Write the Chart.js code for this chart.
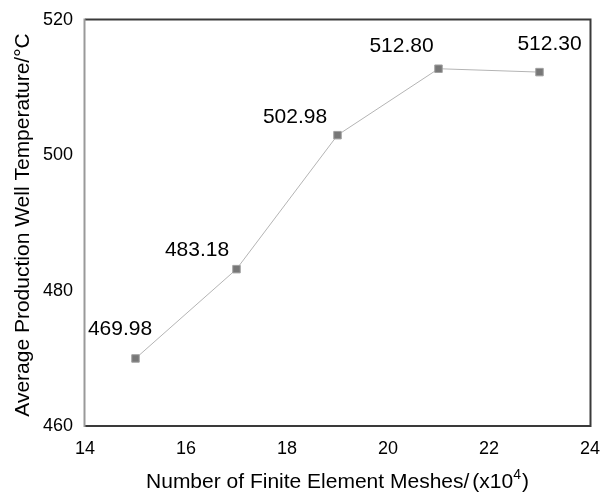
<!DOCTYPE html>
<html>
<head>
<meta charset="utf-8">
<script src="https://cdn.jsdelivr.net/npm/chart.js@4/dist/chart.umd.min.js"></script>
<style>
  html, body { margin: 0; padding: 0; background: #fff; }
  #wrap { width: 600px; height: 495px; }
</style>
</head>
<body>
<div id="wrap"><canvas id="c" width="600" height="495"></canvas></div>
<script>
// Mesh count (x10^4) and the resulting average production well temperature (°C)
const meshCounts = [15, 17, 19, 21, 23];
const wellTemps = [469.98, 483.18, 502.98, 512.80, 512.30];
const xTicks = [14, 16, 18, 20, 22, 24];
const yTicks = [460, 480, 500, 520];

const FONT = '"Liberation Sans", Arial, Helvetica, sans-serif';

// Where each value label sits relative to its point (centre x, baseline y)
const labelOffsets = [[-15.5, -23.5], [-39.5, -13], [-42.5, -12], [-37, -16.7], [10, -22]];

const framePlugin = {
  id: 'frame',
  afterDraw(chart) {
    const { ctx, chartArea: a } = chart;
    ctx.save();
    ctx.lineWidth = 2;
    ctx.strokeStyle = '#3a3a3a';
    ctx.beginPath();
    ctx.moveTo(a.left, a.top - 0.5);
    ctx.lineTo(a.right + 0.5, a.top - 0.5);
    ctx.lineTo(a.right + 0.5, a.bottom);
    ctx.lineTo(a.left, a.bottom);
    ctx.stroke();
    ctx.strokeStyle = '#999';
    ctx.beginPath();
    ctx.moveTo(a.left - 0.5, a.top - 1.5);
    ctx.lineTo(a.left - 0.5, a.bottom + 1);
    ctx.stroke();
    ctx.restore();
  }
};

const valueLabels = {
  id: 'valueLabels',
  afterDatasetsDraw(chart) {
    const { ctx } = chart;
    const meta = chart.getDatasetMeta(0);
    ctx.save();
    ctx.font = '21px ' + FONT;
    ctx.fillStyle = '#000';
    ctx.textAlign = 'center';
    ctx.textBaseline = 'alphabetic';
    meta.data.forEach((pt, i) => {
      const [dx, dy] = labelOffsets[i];
      ctx.fillText(wellTemps[i].toFixed(2), pt.x + dx, pt.y + dy);
    });
    ctx.restore();
  }
};

const axisTitles = {
  id: 'axisTitles',
  afterDraw(chart) {
    const { ctx, chartArea: a } = chart;
    ctx.save();
    ctx.fillStyle = '#000';
    ctx.textBaseline = 'alphabetic';

    // x-axis title with a superscript exponent
    const big = '21px ' + FONT, small = '14px ' + FONT;
    const p1 = 'Number of Finite Element Meshes/', p2 = '(x10', p3 = '4', p4 = ')';
    const gap = 3;
    ctx.font = big;
    const w1 = ctx.measureText(p1).width, w2 = ctx.measureText(p2).width, w4 = ctx.measureText(p4).width;
    ctx.font = small;
    const w3 = ctx.measureText(p3).width;
    const total = w1 + gap + w2 + w3 + 1 + w4;
    let x = (a.left + a.right) / 2 - total / 2;
    const base = 488;
    ctx.textAlign = 'left';
    ctx.font = big;
    ctx.fillText(p1, x, base); x += w1 + gap;
    ctx.fillText(p2, x, base); x += w2;
    ctx.font = small;
    ctx.fillText(p3, x, base - 9); x += w3 + 1;
    ctx.font = big;
    ctx.fillText(p4, x, base);

    // y-axis title
    ctx.translate(29, (a.top + a.bottom) / 2 + 2);
    ctx.rotate(-Math.PI / 2);
    ctx.textAlign = 'center';
    ctx.font = big;
    ctx.fillText('Average Production Well Temperature/°C', 0, 0);
    ctx.restore();
  }
};

new Chart(document.getElementById('c'), {
  type: 'line',
  data: {
    datasets: [{
      data: meshCounts.map((m, i) => ({ x: m, y: wellTemps[i] })),
      borderColor: '#b4b4b4',
      borderWidth: 1,
      pointStyle: 'rect',
      pointRadius: 5.3,
      pointBackgroundColor: '#777',
      pointBorderColor: '#a0a0a0',
      pointBorderWidth: 1,
      tension: 0,
      fill: false
    }]
  },
  options: {
    responsive: false,
    animation: false,
    events: [],
    layout: { padding: { top: 20, right: 10, left: 0, bottom: 0 } },
    plugins: { legend: { display: false }, tooltip: { enabled: false } },
    scales: {
      x: {
        type: 'linear',
        min: 14, max: 24,
        afterFit(s) { s.height = 69; s.paddingLeft = 0; s.paddingRight = 0; },
        afterBuildTicks(s) { s.ticks = xTicks.map(v => ({ value: v })); },
        grid: { display: false, drawTicks: false },
        border: { display: false },
        ticks: { color: '#000', font: { family: FONT, size: 18 }, padding: 12, maxRotation: 0, autoSkip: false }
      },
      y: {
        min: 460, max: 520,
        afterFit(s) { s.width = 85; s.paddingTop = 0; s.paddingBottom = 0; },
        afterBuildTicks(s) { s.ticks = yTicks.map(v => ({ value: v })); },
        grid: { display: false, drawTicks: false },
        border: { display: false },
        ticks: { color: '#000', font: { family: FONT, size: 18 }, padding: 12 }
      }
    }
  },
  plugins: [framePlugin, valueLabels, axisTitles]
});
</script>
</body>
</html>
